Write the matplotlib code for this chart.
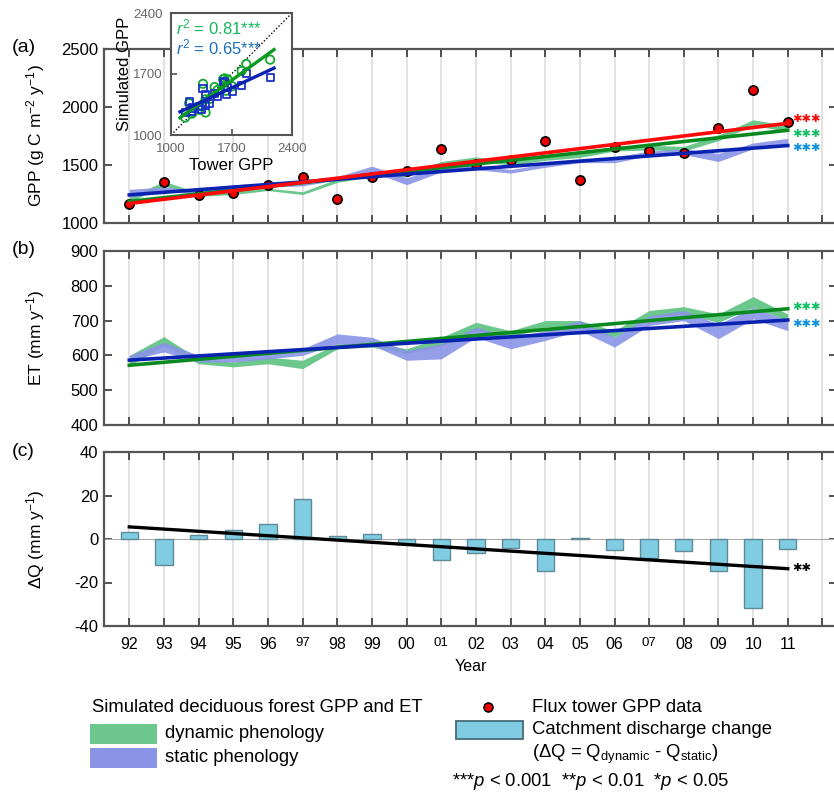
import numpy as np
import matplotlib.pyplot as plt
from matplotlib.patches import Rectangle
from matplotlib.lines import Line2D

# -----------------------------
# Data
# -----------------------------
years = ["92", "93", "94", "95", "96", "97", "98", "99", "00", "01",
         "02", "03", "04", "05", "06", "07", "08", "09", "10", "11"]
small_years = ["97", "01", "07"]

tower_gpp = [1164, 1353, 1240, 1255, 1330, 1400, 1210, 1400, 1450, 1638,
             1505, 1540, 1707, 1370, 1655, 1620, 1603, 1817, 2147, 1871]

gpp_dyn_lo = [1180, 1320, 1230, 1245, 1280, 1245, 1350, 1400, 1400, 1485,
              1530, 1500, 1540, 1565, 1620, 1630, 1620, 1710, 1840, 1790]
gpp_dyn_hi = [1220, 1360, 1260, 1280, 1300, 1270, 1380, 1420, 1430, 1530,
              1570, 1535, 1580, 1610, 1660, 1670, 1660, 1760, 1890, 1840]
gpp_sta_lo = [1220, 1270, 1250, 1290, 1310, 1320, 1370, 1440, 1330, 1440,
              1460, 1430, 1480, 1520, 1520, 1580, 1590, 1530, 1640, 1680]
gpp_sta_hi = [1290, 1310, 1280, 1330, 1340, 1350, 1400, 1490, 1390, 1480,
              1500, 1460, 1510, 1550, 1570, 1620, 1640, 1600, 1690, 1730]

et_dyn_lo = [570, 628, 576, 567, 576, 562, 619, 624, 605, 628,
             671, 652, 681, 681, 652, 710, 719, 695, 738, 700]
et_dyn_hi = [600, 654, 590, 581, 595, 586, 633, 638, 619, 652,
             695, 671, 700, 700, 671, 729, 740, 719, 769, 719]
et_sta_lo = [586, 610, 581, 581, 590, 600, 633, 629, 586, 590,
             652, 619, 643, 671, 624, 686, 700, 648, 705, 671]
et_sta_hi = [600, 638, 600, 600, 610, 619, 662, 652, 614, 633,
             681, 652, 671, 700, 652, 714, 729, 690, 738, 700]

delta_q = [3.4, -11.8, 1.7, 4.0, 6.9, 18.6, 1.5, 2.5, -2.3, -9.7,
           -6.3, -4.3, -14.9, 0.4, -5.2, -8.7, -5.5, -14.9, -31.8, -4.5]

# -----------------------------
# Style
# -----------------------------
plt.rcParams.update({
    "font.family": ["Liberation Sans", "DejaVu Sans"],
    "mathtext.fontset": "custom",
    "mathtext.rm": "Liberation Sans",
    "mathtext.it": "Liberation Sans:italic",
    "mathtext.bf": "Liberation Sans:bold",
    "axes.unicode_minus": False,
})

C_DYN_BAND = "#6cc78c"
C_STA_BAND = "#8a94e6"
C_DYN_LINE = "#0a8a1e"
C_STA_LINE = "#0a22b0"
C_RED = "#ff0a0a"
C_STAR_G = "#10c060"
C_STAR_B = "#0a90dc"

W, H = 834, 792
fig = plt.figure(figsize=(W / 100, H / 100), dpi=100)


def box(l, t, r, b):
    return [l / W, 1 - b / H, (r - l) / W, (b - t) / H]


def fx(x):
    return x / W


def fy(y):
    return 1 - y / H


x = np.arange(len(years))


def trend(xv, yv):
    return np.polyval(np.polyfit(xv, yv, 1), xv)


def style(ax, ylim, yticks):
    ax.set_xlim(-0.73, 20.42)
    ax.set_ylim(*ylim)
    ax.set_xticks(np.arange(21))
    ax.set_yticks(yticks)
    ax.grid(axis="x", color="#e2e2e2", lw=1.4)
    ax.set_axisbelow(True)
    ax.tick_params(direction="in", top=True, right=True, length=6, width=1.3,
                   color="#444444", labelsize=12, pad=4)
    for s in ax.spines.values():
        s.set_color("#555555")
        s.set_linewidth(1.6)
    ax.yaxis.set_label_coords(-0.078, 0.5)


def stars(ax, yv, n, color):
    # significance marks drawn as heavy asterisks
    ax.text(19.12, yv, "\u2731" * n, color=color, fontsize=8.2,
            family="DejaVu Sans", fontweight="bold", ha="left", va="center")


# -----------------------------
# (a) GPP
# -----------------------------
ax_a = fig.add_axes(box(104, 49, 837, 223))
style(ax_a, (1000, 2500), [1000, 1500, 2000, 2500])
ax_a.set_xticklabels([])
gpp_dyn_mid = (np.array(gpp_dyn_lo) + np.array(gpp_dyn_hi)) / 2
gpp_sta_mid = (np.array(gpp_sta_lo) + np.array(gpp_sta_hi)) / 2
ax_a.fill_between(x, gpp_dyn_lo, gpp_dyn_hi, color=C_DYN_BAND, lw=0, zorder=1)
ax_a.fill_between(x, gpp_sta_lo, gpp_sta_hi, color=C_STA_BAND, lw=0, alpha=0.9, zorder=1.1)
ax_a.scatter(x, tower_gpp, s=44, c="#ee0000", edgecolors="black", linewidths=1.2, zorder=3)
ax_a.plot(x, trend(x, gpp_dyn_mid), color=C_DYN_LINE, lw=2.6, zorder=4)
ax_a.plot(x, trend(x, gpp_sta_mid), color=C_STA_LINE, lw=2.6, zorder=4.1)
ax_a.plot(x, trend(x, tower_gpp), color=C_RED, lw=2.6, zorder=4.2)
ax_a.set_ylabel("GPP (g C m$^{-2}$ y$^{-1}$)", fontsize=12.5)
stars(ax_a, 1895, 3, C_RED)
stars(ax_a, 1765, 3, C_STAR_G)
stars(ax_a, 1650, 3, C_STAR_B)

# inset
ax_in = fig.add_axes(box(171, 13, 292, 135), zorder=5)
ax_in.set_facecolor("white")
ax_in.set_xlim(1000, 2400)
ax_in.set_ylim(1000, 2400)
ax_in.set_xticks([1000, 1700, 2400])
ax_in.set_yticks([1000, 1700, 2400])
ax_in.tick_params(direction="in", length=4, width=1.1, color="#444444",
                  labelcolor="#666666", labelsize=9.5, pad=6)
for s in ax_in.spines.values():
    s.set_color("#555555")
    s.set_linewidth(1.5)
ax_in.plot([1000, 2400], [1000, 2400], ls=(0, (1, 1.5)), color="black", lw=1, zorder=1)
tw = np.array(tower_gpp, dtype=float)
ax_in.scatter(tw, gpp_dyn_mid, marker="o", facecolors="none", edgecolors="#14a830",
              s=36, linewidths=1.3, zorder=2)
ax_in.scatter(tw, gpp_sta_mid, marker="s", facecolors="none", edgecolors="#1a30c8",
              s=26, linewidths=1.3, zorder=2)
xs = np.array([tw.min() - 60, tw.max() + 45])
ax_in.plot(xs, np.polyval(np.polyfit(tw, gpp_dyn_mid, 1), xs), color="#0a9a20", lw=2.4, zorder=3)
ax_in.plot(xs, np.polyval(np.polyfit(tw, gpp_sta_mid, 1), xs), color="#0a22b0", lw=2.4, zorder=3)
ax_in.set_xlabel("Tower GPP", fontsize=12, labelpad=2)
ax_in.set_ylabel("Simulated GPP", fontsize=12, labelpad=1)
ax_in.text(0.04, 0.885, "$r^{2}$ = 0.81***", transform=ax_in.transAxes,
           color="#16b85a", fontsize=12, va="center")
ax_in.text(0.04, 0.72, "$r^{2}$ = 0.65***", transform=ax_in.transAxes,
           color="#1f6fb8", fontsize=12, va="center")

# -----------------------------
# (b) ET
# -----------------------------
ax_b = fig.add_axes(box(104, 251, 837, 425))
style(ax_b, (400, 900), [400, 500, 600, 700, 800, 900])
ax_b.set_xticklabels([])
et_dyn_mid = (np.array(et_dyn_lo) + np.array(et_dyn_hi)) / 2
et_sta_mid = (np.array(et_sta_lo) + np.array(et_sta_hi)) / 2
ax_b.fill_between(x, et_dyn_lo, et_dyn_hi, color=C_DYN_BAND, lw=0, zorder=1)
ax_b.fill_between(x, et_sta_lo, et_sta_hi, color=C_STA_BAND, lw=0, alpha=0.9, zorder=1.1)
ax_b.plot(x, trend(x, et_dyn_mid), color=C_DYN_LINE, lw=2.6, zorder=4)
ax_b.plot(x, trend(x, et_sta_mid), color=C_STA_LINE, lw=2.6, zorder=4.1)
ax_b.set_ylabel("ET (mm y$^{-1}$)", fontsize=12.5)
stars(ax_b, 738, 3, C_STAR_G)
stars(ax_b, 690, 3, C_STAR_B)

# -----------------------------
# (c) Delta Q
# -----------------------------
ax_c = fig.add_axes(box(104, 452, 837, 626))
style(ax_c, (-40, 40), [-40, -20, 0, 20, 40])
ax_c.axhline(0, color="#aaaaaa", lw=0.8, zorder=1.5)
ax_c.bar(x, delta_q, width=0.5, color="#7fcce3", edgecolor="#5f8a96", linewidth=1.0, zorder=2)
ax_c.plot(x, trend(x, delta_q), color="black", lw=2.4, zorder=4)
stars(ax_c, -13.5, 2, "black")
ax_c.set_ylabel("ΔQ (mm y$^{-1}$)", fontsize=12.5)
ax_c.set_xticklabels(years + [""], fontsize=11.5)
for lab in ax_c.get_xticklabels():
    if lab.get_text() in small_years:
        lab.set_fontsize(9.5)
ax_c.tick_params(axis="x", pad=8)
ax_c.set_xlabel("Year", fontsize=11.5, labelpad=5)

# panel letters
for lab, yy in [("(a)", 48), ("(b)", 250), ("(c)", 452)]:
    fig.text(fx(12), fy(yy), lab, fontsize=14, va="center", ha="left")

# -----------------------------
# Legend (drawn in figure space)
# -----------------------------
LFS = 13.3
fig.text(fx(92), fy(708), "Simulated deciduous forest GPP and ET",
         fontsize=LFS, va="center")
fig.add_artist(Rectangle((fx(90), fy(744)), fx(67), 20 / H, transform=fig.transFigure,
                         facecolor=C_DYN_BAND, edgecolor="none"))
fig.text(fx(165), fy(733), "dynamic phenology", fontsize=LFS, va="center")
fig.add_artist(Rectangle((fx(90), fy(768)), fx(67), 20 / H, transform=fig.transFigure,
                         facecolor=C_STA_BAND, edgecolor="none"))
fig.text(fx(165), fy(757), "static phenology", fontsize=LFS, va="center")

fig.add_artist(Line2D([fx(488)], [fy(707)], transform=fig.transFigure, marker="o",
                      markersize=6.5, markerfacecolor="#ee0000", markeredgecolor="black",
                      markeredgewidth=1.1, linestyle="none"))
fig.text(fx(532), fy(707), "Flux tower GPP data", fontsize=LFS, va="center")
fig.add_artist(Rectangle((fx(456), fy(739)), fx(67), 18 / H, transform=fig.transFigure,
                         facecolor="#7fcce3", edgecolor="#4a6b75", linewidth=1.3))
fig.text(fx(532), fy(730), "Catchment discharge change", fontsize=LFS, va="center")
fig.text(fx(532), fy(754), r"(ΔQ = Q$_{\mathrm{dynamic}}$ - Q$_{\mathrm{static}}$)",
         fontsize=LFS, va="center")
fig.text(fx(452), fy(782), "***$p$ < 0.001  **$p$ < 0.01  *$p$ < 0.05",
         fontsize=LFS, va="center")

fig.savefig("out.png", dpi=100)
